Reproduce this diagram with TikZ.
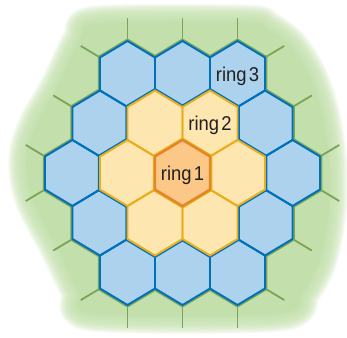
\documentclass[tikz,border=0pt]{standalone}
\usepackage{fontspec}
\setmainfont{Liberation Sans}[FakeStretch=0.92,WordSpace=0.45]
\usetikzlibrary{calc}
\definecolor{softgreen}{RGB}{195,224,172}
\definecolor{edgegreen}{RGB}{122,164,88}
\definecolor{softblue}{RGB}{172,210,238}
\definecolor{edgeblue}{RGB}{0,112,186}
\definecolor{softyellow}{RGB}{253,230,176}
\definecolor{edgeyellow}{RGB}{232,174,28}
\definecolor{softorange}{RGB}{251,200,135}
\definecolor{edgeorange}{RGB}{228,134,40}
\definecolor{labelgray}{RGB}{35,31,32}
\def\hexpath{(0,2) -- (1,1) -- (1,-1) -- (0,-2) -- (-1,-1) -- (-1,1) -- cycle}
\def\blob{plot[smooth cycle, tension=0.5] coordinates {(97,314) (245,315) (267,309) (291,291) (310,261) (322,225) (329,180) (329,127) (320,77) (303,45) (279,23) (93,23) (78,46) (56,91) (33,135) (26,166) (28,192) (39,219) (57,250) (80,298)}}
\def\ringone{0/0}
\def\ringtwo{2/0,1/3,-1/3,-2/0,-1/-3,1/-3}
\def\ringthree{4/0,3/3,2/6,0/6,-2/6,-3/3,-4/0,-3/-3,-2/-6,0/-6,2/-6,3/-3}

\begin{document}
\begin{tikzpicture}[
            x=1pt, y=1pt,
            band/.style={line width=4.5pt, line join=round},
            cellline/.style={line width=1.9pt, line join=round},
            spoke/.style={edgegreen, line width=1.8pt},
            ringlabel/.style={text=labelgray, inner sep=0pt, yshift=-2pt, font=\fontsize{20}{24}\selectfont}
        ]
            \useasboundingbox (0,0) rectangle (347,337);
            \fill[softgreen] \blob;
            \foreach \w in {1,...,16}
                \draw[softgreen, line width=2.2*\w pt, opacity=0.15, line join=round] \blob;
            \begin{scope}[shift={(182.5pt,164pt)}, x=27.5pt, y=16.5pt]
                \foreach \x/\y/\u/\v in {-2/6/0/2, -2/6/-1/1, 0/6/0/2, 2/6/0/2, 2/6/1/1, 3/3/1/1,
                        4/0/1/1, 4/0/1/-1, 3/-3/1/-1, 2/-6/1/-1, 2/-6/0/-2, 0/-6/0/-2,
                        -2/-6/0/-2, -2/-6/-1/-1, -3/-3/-1/-1, -4/0/-1/-1, -4/0/-1/1, -3/3/-1/1}
                    \draw[spoke, shift={(\x,\y)}] (\u,\v) -- (1.7*\u,1.7*\v);
                \foreach \x/\y in \ringthree \draw[band, edgegreen, shift={(\x,\y)}] \hexpath;
                \foreach \x/\y in \ringthree \fill[softblue, shift={(\x,\y)}] \hexpath;
                \foreach \x/\y in \ringthree \draw[cellline, edgeblue, shift={(\x,\y)}] \hexpath;
                \foreach \x/\y in \ringtwo \draw[band, edgeblue, shift={(\x,\y)}] \hexpath;
                \foreach \x/\y in \ringtwo \fill[softyellow, shift={(\x,\y)}] \hexpath;
                \foreach \x/\y in \ringtwo \draw[cellline, edgeyellow, shift={(\x,\y)}] \hexpath;
                \foreach \x/\y in \ringone \draw[band, edgeyellow, shift={(\x,\y)}] \hexpath;
                \foreach \x/\y in \ringone \fill[softorange, shift={(\x,\y)}] \hexpath;
                \foreach \x/\y in \ringone \draw[cellline, edgeorange, line width=2.4pt, shift={(\x,\y)}] \hexpath;
                \node[ringlabel] (ring1) at (0,0) {ring 1};
                \node[ringlabel] (ring2) at (1,3) {ring 2};
                \node[ringlabel] (ring3) at (2,6) {ring 3};
            \end{scope}
        \end{tikzpicture}
\end{document}
